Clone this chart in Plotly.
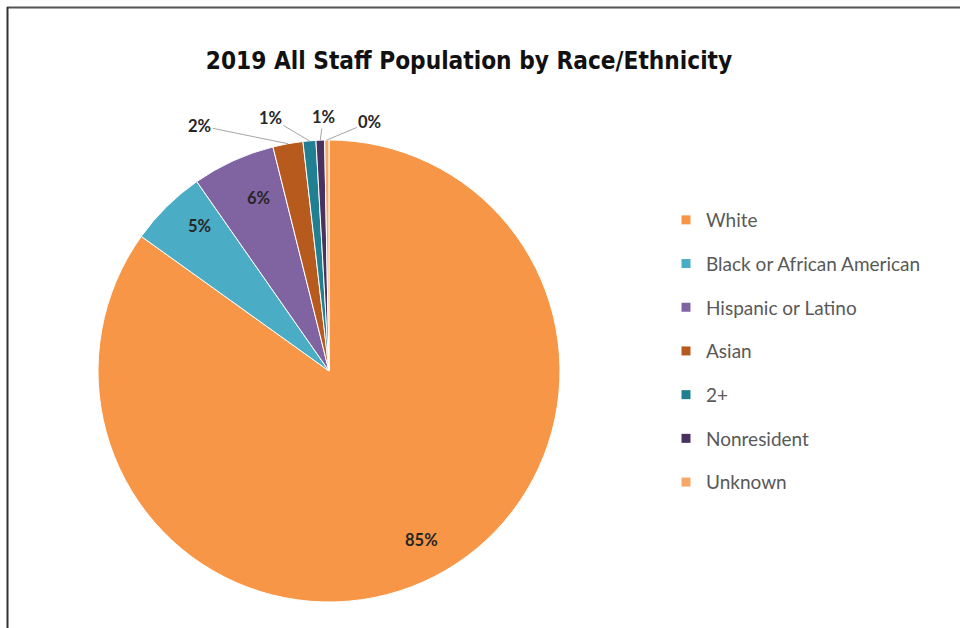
import math
import plotly.graph_objects as go

title_text = "2019 All Staff Population by Race/Ethnicity"
labels = ["White", "Black or African American", "Hispanic or Latino", "Asian",
          "2+", "Nonresident", "Unknown"]
values = [84.9, 5.4, 5.8, 2.1, 0.9, 0.6, 0.3]
colors = ["#F79646", "#4BACC6", "#8064A2", "#B65A1E", "#207F91", "#49325F", "#F7A866"]
label_inside = [True, True, True, False, False, False, False]
# pixel offsets of outside labels from the slice edge (styling only)
outside_offsets = [None, None, None, (-88, -18), (-39, -23), (3, -23), (43, -18)]

W, H = 960, 628
dom_x_px = (98, 560)
dom_y_px = (140, 602)

fig = go.Figure()
fig.add_trace(go.Pie(
    labels=labels, values=values, sort=False, direction="clockwise", rotation=0,
    marker=dict(colors=colors, line=dict(color="white", width=1)),
    textinfo="none",
    domain=dict(x=[dom_x_px[0] / W, dom_x_px[1] / W],
                y=[(H - dom_y_px[1]) / H, (H - dom_y_px[0]) / H]),
    showlegend=False, hoverinfo="label+percent",
))

for lab, col in zip(labels, colors):
    fig.add_trace(go.Scatter(
        x=[None], y=[None], mode="markers", name=lab, legendgroup=lab,
        marker=dict(symbol="square", size=9, color=col), showlegend=True,
    ))

# percentage labels placed from the pie geometry
cx = (dom_x_px[0] + dom_x_px[1]) / 2
cy = (dom_y_px[0] + dom_y_px[1]) / 2
R = min(dom_x_px[1] - dom_x_px[0], dom_y_px[1] - dom_y_px[0]) / 2
total = sum(values)
label_font = dict(family="Lato, Open Sans, sans-serif", size=16.5, color="#262626", weight="bold")
annotations = []
cum = 0.0
for v, inside, off in zip(values, label_inside, outside_offsets):
    mid = (cum + v / 2) / total * 2 * math.pi
    cum += v
    txt = f"{round(v / total * 100)}%"
    if inside:
        px = cx + 0.88 * R * math.sin(mid)
        py = cy - 0.88 * R * math.cos(mid)
        annotations.append(dict(x=px / W, y=1 - py / H, xref="paper", yref="paper",
                                text=txt, showarrow=False, font=label_font))
    else:
        px = cx + R * math.sin(mid)
        py = cy - R * math.cos(mid)
        annotations.append(dict(x=px / W, y=1 - py / H, xref="paper", yref="paper",
                                text=txt, showarrow=True, arrowhead=0, arrowwidth=1,
                                arrowcolor="#A6A6A6", ax=off[0], ay=off[1], standoff=0,
                                font=label_font))

fig.update_layout(
    width=W, height=H,
    margin=dict(l=0, r=0, t=0, b=0),
    paper_bgcolor="white", plot_bgcolor="white",
    title=dict(text=title_text, x=469 / W, xanchor="center", y=1 - 61 / H, yanchor="middle",
               font=dict(family="DejaVu Sans Condensed, DejaVu Sans",
                         size=24.2, color="#111111", weight="bold")),
    xaxis=dict(visible=False), yaxis=dict(visible=False),
    legend=dict(x=666 / W, xanchor="left", y=1 - 201 / H, yanchor="top",
                font=dict(family="Lato, Open Sans, sans-serif", size=19, color="#595959"),
                tracegroupgap=16, bgcolor="rgba(0,0,0,0)"),
    annotations=annotations,
    shapes=[
        dict(type="line", xref="paper", yref="paper", x0=7 / W, x1=1, y0=1 - 7.5 / H, y1=1 - 7.5 / H,
             line=dict(color="#555555", width=2)),
        dict(type="line", xref="paper", yref="paper", x0=7.5 / W, x1=7.5 / W, y0=0, y1=1 - 7 / H,
             line=dict(color="#333333", width=2)),
    ],
)

fig.write_html("out.html", config={"displayModeBar": False},
               post_script="document.body.style.margin='0px';")
